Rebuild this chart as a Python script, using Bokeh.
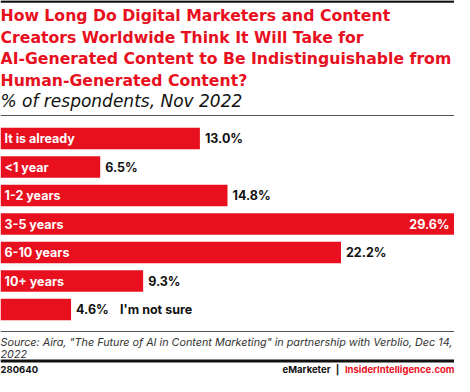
from bokeh.plotting import figure
from bokeh.models import ColumnDataSource, Range1d, Label, Span
from bokeh.core.properties import value
from bokeh.embed import file_html
from bokeh.resources import INLINE

# ---- data ----
categories = ["It is already", "<1 year", "1-2 years", "3-5 years", "6-10 years", "10+ years", ""]
values = [13.0, 6.5, 14.8, 29.6, 22.2, 9.3, 4.6]
value_labels = ["13.0%", "6.5%", "14.8%", "29.6%", "22.2%", "9.3%", "4.6%"]
extra_label = "I'm not sure"

title_lines = [
    "How Long Do Digital Marketers and Content",
    "Creators Worldwide Think It Will Take for",
    "AI-Generated Content to Be Indistinguishable from",
    "Human-Generated Content?",
]
subtitle = "% of respondents, Nov 2022"
source_lines = [
    "Source: Aira, \"The Future of AI in Content Marketing\" in partnership with Verblio, Dec 14,",
    "2022",
]
chart_id = "280640"

RED = "#E8101E"
W, H = 454, 376
FONT = "Inter"
TFONT = "DejaVu Sans"

pitch = 28.5
first = 138.0
y_top = -first / pitch
y_bot = (H - first) / pitch

n = len(values)
idx = list(range(n))
vmax = max(values)
inside = [v >= vmax for v in values]

p = figure(width=W, height=H, output_backend="svg", toolbar_location=None,
           x_range=Range1d(0, vmax), y_range=Range1d(y_bot, y_top),
           min_border=0, outline_line_color=None)
p.axis.visible = False
p.grid.visible = False
p.background_fill_color = "white"
p.border_fill_color = "white"

src = ColumnDataSource(dict(
    y=idx, v=values, cat=categories,
    vl_out=[("" if ins else t) for t, ins in zip(value_labels, inside)],
    vl_in=[(t if ins else "") for t, ins in zip(value_labels, inside)],
    zero=[0] * n,
))

p.hbar(y="y", left="zero", right="v", height=21.5 / pitch, source=src,
       fill_color=RED, line_color=None)

p.text(x="zero", y="y", text="cat", source=src, x_offset=4,
       text_color="white", text_font=value(FONT), text_font_style="bold",
       text_font_size="12.5px", text_baseline="middle", text_align="left")
p.text(x="v", y="y", text="vl_out", source=src, x_offset=5,
       text_color="#111111", text_font=value(FONT), text_font_style="bold",
       text_font_size="12.5px", text_baseline="middle", text_align="left")
p.text(x="v", y="y", text="vl_in", source=src, x_offset=-5,
       text_color="white", text_font=value(FONT), text_font_style="bold",
       text_font_size="12.5px", text_baseline="middle", text_align="right")
p.text(x=[values[-1]], y=[idx[-1]], text=[extra_label], x_offset=49,
       text_color="#111111", text_font=value(FONT), text_font_style="bold",
       text_font_size="12.5px", text_baseline="middle", text_align="left")


def lab(x, ty, text, size, color, style="normal", align="left", font=FONT):
    p.add_layout(Label(x=x, y=H - ty, x_units="screen", y_units="screen", text=text,
                       text_font=font, text_font_size=size, text_color=color,
                       text_font_style=style, text_align=align, text_baseline="middle"))


def hline(ty, color, width):
    p.add_layout(Span(location=H - ty, location_units="screen", dimension="width",
                      line_color=color, line_width=width))


hline(1, "#111111", 2.5)
for i, t in enumerate(title_lines):
    lab(0, 15 + 21.5 * i, t, "15.7px", RED, "bold", font=TFONT)
lab(0, 100, subtitle, "17px", "#111111", "italic", font=TFONT)
hline(115, "#555555", 1)

hline(331, "#555555", 1)
lab(0, 341.5, source_lines[0], "10.8px", "#333333", "italic")
lab(0, 353, source_lines[1], "10.8px", "#333333", "italic")
hline(360.5, "#111111", 3)
lab(0, 369, chart_id, "9.5px", "#111111", "bold")
lab(W, 369, "InsiderIntelligence.com", "9.5px", RED, "bold", "right")
lab(W - 117, 369, "|", "9.5px", "#111111", "bold", "center")
lab(W - 124, 369, "eMarketer", "9.5px", "#111111", "bold", "right")

open("out.html", "w").write(file_html(p, INLINE))
